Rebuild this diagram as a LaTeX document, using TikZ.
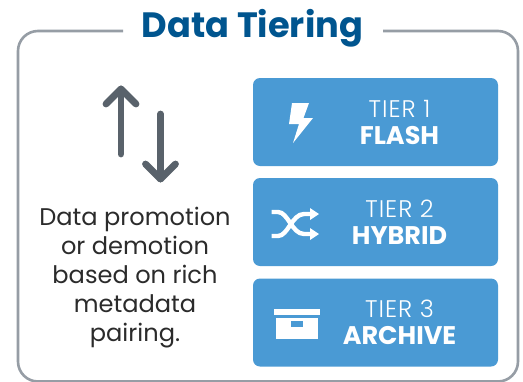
\documentclass[tikz,border=0pt]{standalone}
\usepackage{fontspec}
\setmainfont{Poppins}
\newfontfamily\tierlight[LetterSpace=4]{Poppins Light}
\definecolor{framegray}{HTML}{969DA5}
\definecolor{titleblue}{HTML}{00558F}
\definecolor{tierblue}{HTML}{4A9AD4}
\definecolor{arrowgray}{HTML}{59626B}
\definecolor{textdark}{HTML}{2B2B2B}
\newcommand{\tiertop}[1]{{\tierlight\fontsize{24}{27}\selectfont #1}}
\newcommand{\tierbot}[1]{{\fontsize{25.5}{27}\selectfont\bfseries #1}}
\tikzset{
  tierbox/.style={fill=tierblue,draw=none,rounded corners=7pt,minimum width=245pt,minimum height=88pt,inner sep=0pt},
  tierlabel/.style={text=white,align=center,inner sep=0pt,font=\fontsize{24}{27}\selectfont},
  arrowline/.style={draw=arrowgray,line width=6.8pt,line cap=round,line join=round},
  bodytext/.style={text=textdark,align=center,font=\fontsize{24.1}{29.2}\selectfont,inner sep=0pt},
  icon/.style={fill=white,draw=none},
  iconline/.style={draw=white,line width=4.4pt}
}
\begin{document}
\begin{tikzpicture}[x=1pt,y=-1pt]
\useasboundingbox (0,0) rectangle (523,381);
\fill[white] (0,0) rectangle (523,381);
% frame
\draw[framegray,line width=2.6pt,rounded corners=20pt] (123,31) -- (18,31) -- (18,381.5) -- (518,381.5) -- (518,31) -- (383,31);
\node[text=titleblue,font=\fontsize{35.2}{38}\selectfont\bfseries,inner sep=0pt] (title) at (252.5,28) {Data Tiering};
% arrows
\draw[arrowline] (121,154) -- (121,89);
\draw[arrowline] (106,104) -- (121,89) -- (136,104);
\draw[arrowline] (160.5,114) -- (160.5,179);
\draw[arrowline] (145.5,164) -- (160.5,179) -- (175.5,164);
\node[bodytext] (body) at (135,277.5) {Data promotion\\or demotion\\based on rich\\metadata\\pairing.};
% tiers
\node[tierbox] (t1) at (375.5,122) {};
\node[tierbox] (t2) at (375.5,222) {};
\node[tierbox] (t3) at (375.5,322.5) {};
\node[tierlabel] (l1) at (399.5,122.5) {\tiertop{TIER 1}\\\tierbot{FLASH}};
\node[tierlabel] (l2) at (399.5,222) {\tiertop{TIER 2}\\\tierbot{HYBRID}};
\node[tierlabel] (l3) at (399.5,322.5) {\tiertop{TIER 3}\\\tierbot{ARCHIVE}};
% flash
\fill[icon] (292,103) -- (309,103) -- (303.5,118) -- (313,118) -- (293,143) -- (299,124) -- (289,124) -- cycle;
% shuffle
\draw[iconline] (271.5,212) -- (278,212) .. controls (288,212) and (292,234) .. (304,234) -- (312,234);
\draw[iconline] (271.5,236) -- (278,236) .. controls (288,236) and (292,214) .. (304,214) -- (312,214);
\fill[icon] (310,208) -- (319,214) -- (310,220) -- cycle;
\fill[icon] (310,228) -- (319,234) -- (310,240) -- cycle;
% archive
\fill[icon] (274,309) rectangle (320,315);
\fill[icon] (276,318) rectangle (318,339);
\fill[tierblue] (291,321) rectangle (303,327);
\end{tikzpicture}
\end{document}
